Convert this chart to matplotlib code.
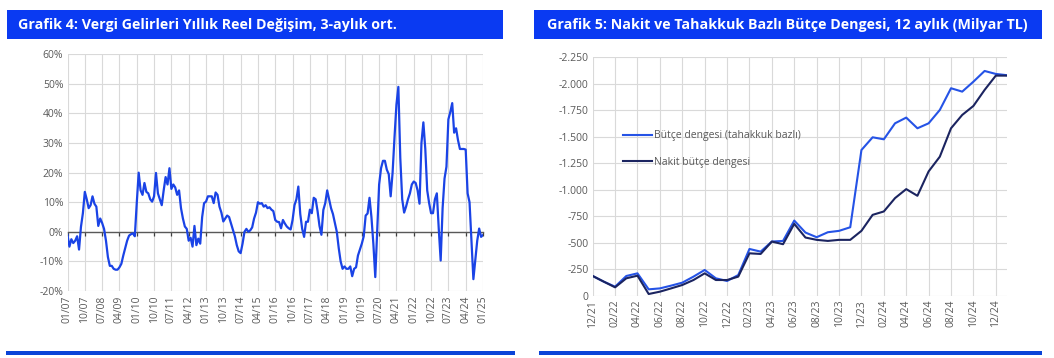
import numpy as np
import pandas as pd
import matplotlib
matplotlib.use("Agg")
import matplotlib.pyplot as plt
from matplotlib.patches import Rectangle
from matplotlib.ticker import FuncFormatter

plt.rcParams['font.family'] = ['Open Sans', 'DejaVu Sans']

# Grafik 4: tax revenue, yearly real change (3-month avg, %), monthly 01/07 - 01/25
tax_growth = [
    -1, -5, -2.5, -3.8, -3, -1.5, -6, 1.7, 6.3, 13.5, 11, 8,          # 2007
    9, 12, 9.5, 8.5, 2, 4.5, 3, 1, -3, -8.5, -11.5, -11.5,            # 2008
    -12.5, -12.8, -12.8, -12, -10.8, -8, -5.5, -3, -1.3, -0.8, -0.5, -1.5,  # 2009
    9.7, 20, 14, 12.5, 16.5, 13.5, 13, 11, 10.2, 12, 19.9, 13,        # 2010
    11, 9, 14, 18.5, 16, 21.5, 14.5, 16, 15, 12.5, 14, 8,             # 2011
    4.5, 1.8, 1, -3, -2, -5, 2, -4.5, -2.3, -4, 5, 9.7,               # 2012
    10.2, 12, 12, 12, 9.7, 13.3, 12.5, 8.5, 6.5, 3.5, 4.5, 5.5,       # 2013
    5, 2.8, 0.5, -1.5, -4.5, -6.6, -7.2, -4, 0, 1, 0, 0.5,            # 2014
    1.5, 4.5, 6.5, 10, 9.5, 9.7, 8.5, 9, 8, 8.3, 7.5, 7,              # 2015
    4, 3.4, 3.3, 1.2, 4, 2.8, 1.8, 1.2, 0.8, 4, 9, 11,                # 2016
    15.3, 6, 1, -1.7, 3.4, 3.4, 7.5, 6.3, 11.5, 11, 7, 2,             # 2017
    -1, 7.4, 9.7, 14, 11, 8, 6, 3, 0, -5.5, -10, -12.5,               # 2018
    -11.7, -12.5, -12.5, -11.7, -15, -12.5, -12, -8, -6, -4, -1.5, 5.5,  # 2019
    6.2, 11.5, 5, -4, -15.3, 0, 16, 21.5, 24, 24, 21, 19.5,           # 2020
    12, 20, 32, 43, 49, 25, 11, 6.5, 8.5, 11, 13, 16,                 # 2021
    17, 16.5, 14, 9.5, 30, 37, 28, 14, 9.7, 6.3, 6.3, 11,             # 2022
    13, 1, -9.7, 8, 18, 22, 38, 40.5, 43.5, 33.5, 35, 31,             # 2023
    28, 28, 28, 27.8, 13, 10, -3, -16, -9.5, -3, 1.1, -1.7,           # 2024
    -1.1,                                                             # 2025
]
tax_months = pd.date_range("2007-01-01", periods=len(tax_growth), freq="MS")

# Grafik 5: 12-month budget balance (billion TL), 12/21 - 01/25
budget_months = pd.date_range("2021-12-01", periods=38, freq="MS")
accrual_balance = [-186, -132, -85, -186, -211, -60, -69, -95, -123, -180, -243, -164,
                   -139, -195, -441, -416, -511, -517, -709, -596, -552, -599, -612, -646,
                   -1375, -1495, -1476, -1627, -1681, -1580, -1627, -1753, -1958, -1926,
                   -2020, -2121, -2093, -2081]
cash_balance = [-186, -132, -79, -164, -189, -16, -38, -69, -101, -148, -211, -148,
                -148, -180, -400, -394, -511, -486, -678, -549, -527, -517, -527, -527,
                -612, -763, -795, -921, -1006, -943, -1173, -1312, -1580, -1706,
                -1791, -1942, -2077, -2077]

TITLE_BLUE = '#0a3af2'
BAR_BLUE = '#0a44d8'
GRID = '#d9d9d9'
TXT = '#595959'

W, H = 1054, 358
fig = plt.figure(figsize=(W / 100, H / 100), dpi=100)


def px_box(x0, y0, x1, y1):
    # pixel box (top-left origin) -> figure fraction [left, bottom, width, height]
    return [x0 / W, 1 - y1 / H, (x1 - x0) / W, (y1 - y0) / H]


# title bars and bottom rules
for (x0, x1) in [(7, 503), (534, 1042)]:
    b = px_box(x0, 10, x1, 39)
    fig.patches.append(Rectangle((b[0], b[1]), b[2], b[3], transform=fig.transFigure,
                                 facecolor=TITLE_BLUE, edgecolor='none'))
for (x0, x1) in [(6, 515), (539, 1042)]:
    b = px_box(x0, 351, x1, 355)
    fig.patches.append(Rectangle((b[0], b[1]), b[2], b[3], transform=fig.transFigure,
                                 facecolor=BAR_BLUE, edgecolor='none'))

fig.text(18 / W, 1 - 24.5 / H, 'Grafik 4: Vergi Gelirleri Yıllık Reel Değişim, 3-aylık ort.',
         color='white', fontsize=10.3, fontweight='bold', ha='left', va='center')
fig.text(787 / W, 1 - 24.5 / H,
         'Grafik 5: Nakit ve Tahakkuk Bazlı Bütçe Dengesi, 12 aylık (Milyar TL)',
         color='white', fontsize=10.3, fontweight='bold', ha='center', va='center')

# ---- left chart
ax1 = fig.add_axes(px_box(67.5, 54.3, 483, 291))
x1 = np.arange(len(tax_growth))
ax1.plot(x1, tax_growth, color='#1a43e6', lw=1.6, zorder=3)
ax1.set_xlim(0, len(tax_growth) - 1)
ax1.set_ylim(-20, 60)
ax1.set_yticks(np.arange(-20, 61, 10))
ax1.yaxis.set_major_formatter(FuncFormatter(lambda v, p: f'{v:.0f}%'))
ticks1 = x1[::9]
ax1.set_xticks(ticks1)
ax1.grid(True, color=GRID, lw=0.8, zorder=0)
ax1.set_axisbelow(True)
ax1.tick_params(axis='y', length=0, labelsize=7.5, labelcolor=TXT, pad=3)
# axis line sits at zero with small tick marks; labels drawn at the bottom
for s in ['top', 'right', 'left']:
    ax1.spines[s].set_visible(False)
ax1.spines['bottom'].set_position(('data', 0))
ax1.spines['bottom'].set_color('#595959')
ax1.spines['bottom'].set_linewidth(1.0)
ax1.tick_params(axis='x', length=3, width=0.9, color='#404040', direction='out',
                labelbottom=False)
for i in ticks1:
    ax1.text(i, -0.02, tax_months[i].strftime('%m/%y'), transform=ax1.get_xaxis_transform(),
             rotation=90, ha='center', va='top', fontsize=7.5, color=TXT)

# ---- right chart
ax2 = fig.add_axes(px_box(592.7, 57.3, 1007, 295.7))
x2 = np.arange(len(budget_months))
ax2.plot(x2, accrual_balance, color='#2553e6', lw=1.5, label='Bütçe dengesi (tahakkuk bazlı)', zorder=3)
ax2.plot(x2, cash_balance, color='#1b2460', lw=1.5, label='Nakit bütçe dengesi', zorder=3)
ax2.set_xlim(0, len(budget_months) - 1)
ax2.set_ylim(0, -2250)
ax2.set_yticks(np.arange(0, -2251, -250))
ax2.yaxis.set_major_formatter(FuncFormatter(lambda v, p: f'{int(round(v)):,}'.replace(',', '.')))
ticks2 = x2[::2]
ax2.set_xticks(ticks2)
ax2.set_xticklabels([budget_months[i].strftime('%m/%y') for i in ticks2], rotation=90)
ax2.grid(True, color=GRID, lw=0.8)
ax2.tick_params(axis='both', length=0, labelsize=7.5, labelcolor=TXT, pad=3)
for s in ax2.spines.values():
    s.set_visible(False)
ax2.legend(loc='upper left', bbox_to_anchor=(0.06, 0.715), frameon=False, fontsize=7.5,
           handlelength=2.8, handletextpad=0.2, labelspacing=1.5, borderpad=0,
           labelcolor=TXT)

fig.savefig('out.png', dpi=100)
